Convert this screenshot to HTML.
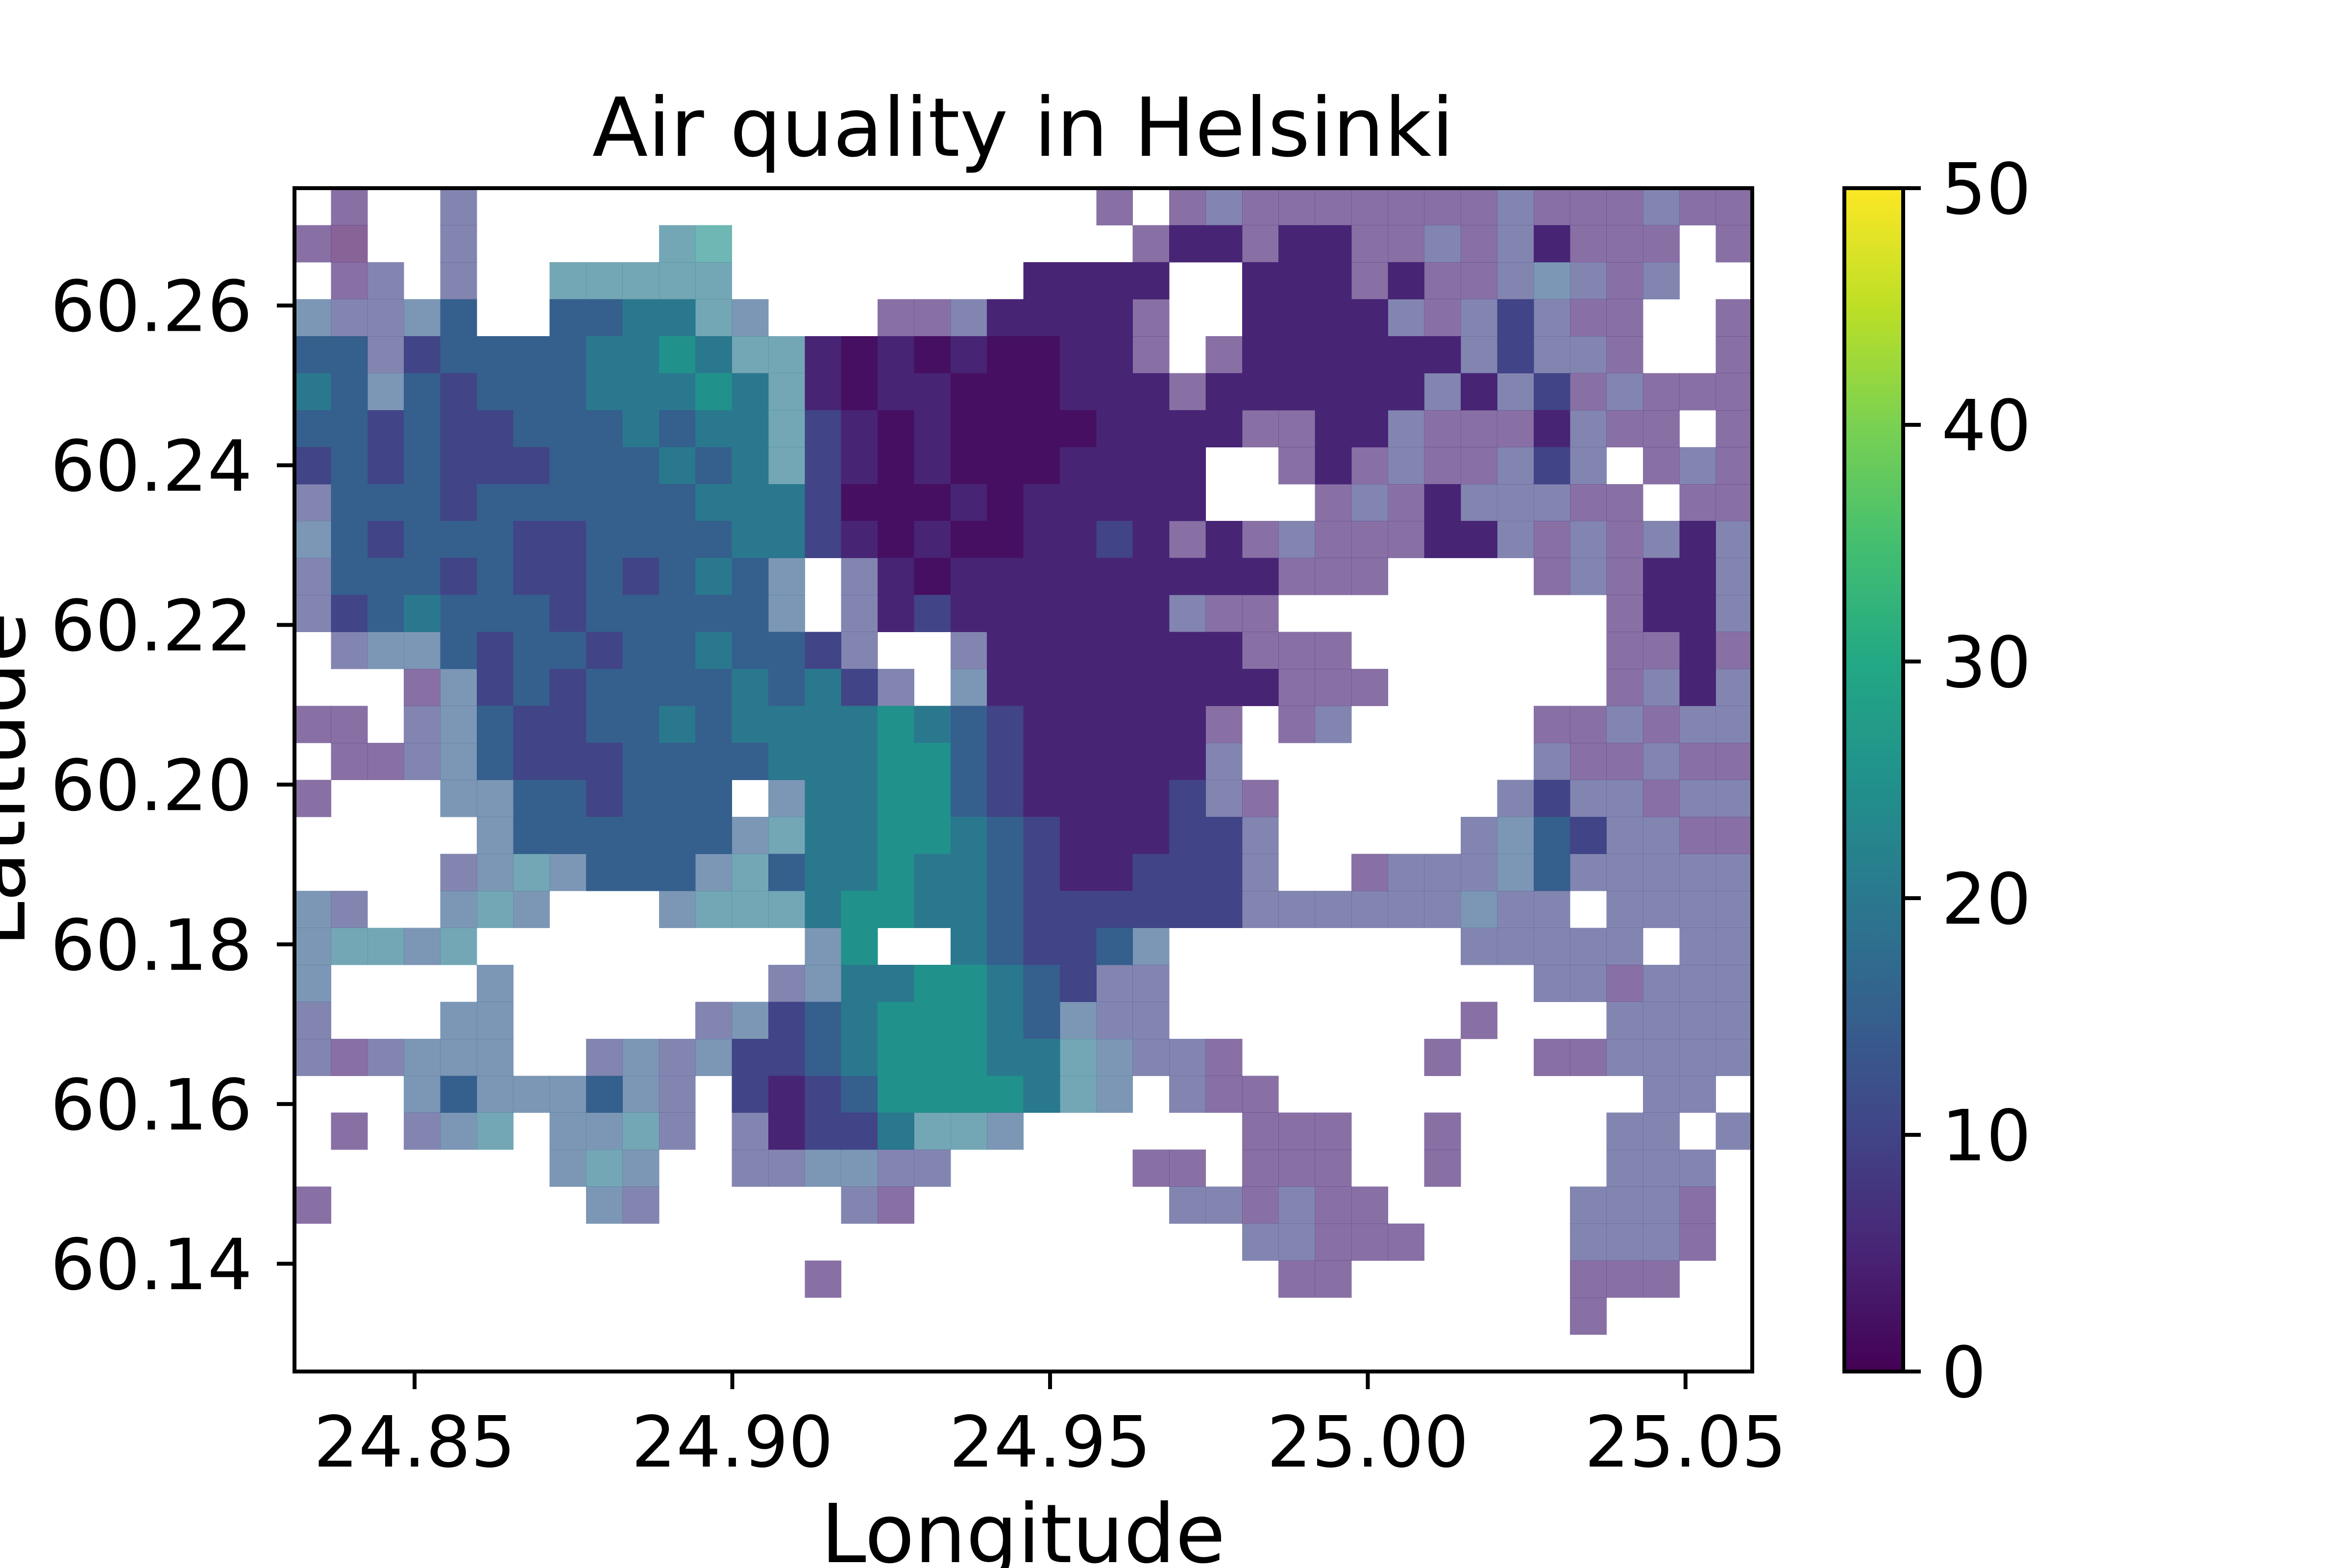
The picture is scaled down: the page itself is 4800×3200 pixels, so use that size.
<!DOCTYPE html>
<html>
<head>
<meta charset="utf-8">
<style>
html,body{margin:0;padding:0;background:#fff;}
svg{display:block;}
text{font-family:"DejaVu Sans","Liberation Sans",sans-serif;fill:#000;}
</style>
</head>
<body>
<svg id="chart" width="4800" height="3200" viewBox="0 0 4800 3200" xmlns="http://www.w3.org/2000/svg">
  <defs>
    <linearGradient id="viridis" x1="0" y1="1" x2="0" y2="0">
      <stop offset="0" stop-color="#440154"/>
      <stop offset="0.1" stop-color="#482475"/>
      <stop offset="0.2" stop-color="#414487"/>
      <stop offset="0.3" stop-color="#355f8d"/>
      <stop offset="0.4" stop-color="#2a788e"/>
      <stop offset="0.5" stop-color="#21918c"/>
      <stop offset="0.6" stop-color="#22a884"/>
      <stop offset="0.7" stop-color="#44bf70"/>
      <stop offset="0.8" stop-color="#7ad151"/>
      <stop offset="0.9" stop-color="#bddf26"/>
      <stop offset="1" stop-color="#fde725"/>
    </linearGradient>
  </defs>
  <rect width="4800" height="3200" fill="#fff"/>
  <g id="cells" shape-rendering="crispEdges"></g>
  <g id="axes"></g>
  <text x="2088" y="318" font-size="166" text-anchor="middle">Air quality in Helsinki</text>
  <text x="2088" y="3188" font-size="166" text-anchor="middle">Longitude</text>
  <text transform="translate(50,1591) rotate(-90)" font-size="166" text-anchor="middle">Latitude</text>
  <g id="colorbar"></g>
</svg>
<script>
// ---- data ----
const lonStart = 24.8311;
const lonEnd = 25.0605;
const latTop = 60.2747;
const latBottom = 60.1265;
const xTicks = [24.85, 24.90, 24.95, 25.00, 25.05];
const xTickLabels = ["24.85", "24.90", "24.95", "25.00", "25.05"];
const yTicks = [60.14, 60.16, 60.18, 60.20, 60.22, 60.24, 60.26];
const yTickLabels = ["60.14", "60.16", "60.18", "60.20", "60.22", "60.24", "60.26"];
const cbTicks = [0, 10, 20, 30, 40, 50];
const cbTickLabels = ["0", "10", "20", "30", "40", "50"];
const vmin = 0;
const vmax = 50;
// grid rows, north to south; '.' = no data, digit d = dense cell of value d*5,
// lowercase letter = sparse cell (a=0, b=5, c=10 ...)
const gridRows = [
".b..c....." + ".........." + "..b.bcbbbb" + "bbbcbbbcbb",
"ba..c....." + "ef........" + "...b11b11b" + "bcbc1bbb.b",
".bc.c..eee" + "ee........" + "1111..111b" + "1bbcdcbc..",
"dccd3..334" + "4ed...bbc1" + "111b..1111" + "cbc2cbb..b",
"33c2333344" + "54ee101010" + "011b.b1111" + "11c2ccb..b",
"43d3233344" + "454e101100" + "0111b11111" + "1c1c2bcbbb",
"3323223334" + "344e210100" + "001111bb11" + "cbbb1cbb.b",
"2323222333" + "434e210100" + "01111..b1b" + "cbbc2c.bcb",
"c333233333" + "3444200010" + "11111...bc" + "b1cccbb.bb",
"d323332233" + "3344210100" + "1121b1bcbb" + "b11cbcbc1c",
"c333232232" + "343d.c1011" + "1111111bbb" + "....bcb11c",
"c234333233" + "333d.c1211" + "1111cbb..." + "......b11c",
".cdd323323" + "34332c..c1" + "111111bbb." + "......bb1b",
"...bd23233" + "334342c.d1" + "1111111bbb" + "......bc1c",
"bb.cd32233" + "4344445432" + "11111b.bc." + "....bbcbcc",
".bbcd32223" + "3334445532" + "11111c...." + "....cbbcbb",
"b...dd3323" + "33.d445532" + "11112cb..." + "...c2ccbcc",
".....d3333" + "33de445543" + "211122c..." + "..cd32ccbb",
"....cded33" + "3de3445443" + "211222c..b" + "cccd3ccccc",
"dc..ded..." + "deee455443" + "222222cccc" + "ccdcc.cccc",
"deede....." + "....d5..43" + "223d......" + "..ccccc.cc",
"d....d...." + "...cd44554" + "32cc......" + "....ccbccc",
"c...dd...." + ".cd2345554" + "3dcc......" + "..b...cccc",
"cbcddd..cd" + "cd22345554" + "4edccb...." + ".b..bbcccc",
"...d3ddd3d" + "c.21235555" + "4ed.cbb..." + ".......cc.",
".b.cde.dde" + "c.c1224eed" + "......bbb." + ".b....cc.c",
".......ded" + "..ccddcc.." + "...bb.bbb." + ".b....ccc.",
"b.......dc" + ".....cb..." + "....ccbcbb" + ".....cccb.",
".........." + ".........." + "......ccbb" + "b....cccb.",
".........." + "....b....." + ".......bb." + ".....bbb..",
".........." + ".........." + ".........." + ".....b....",
".........." + ".........." + ".........." + ".........."
];
</script>
<script>
const plotLeft = 601, plotRight = 3576, plotTop = 384, plotBottom = 2799;
const cbLeft = 3764, cbRight = 3884;
function x(lon){ return plotLeft + (lon - lonStart) / (lonEnd - lonStart) * (plotRight - plotLeft); }
function y(lat){ return plotTop + (latTop - lat) / (latTop - latBottom) * (plotBottom - plotTop); }
function cy(v){ return plotBottom - (v - vmin) / (vmax - vmin) * (plotBottom - plotTop); }
const vir = ["#440154","#482475","#414487","#355f8d","#2a788e","#21918c","#22a884","#44bf70","#7ad151","#bddf26","#fde725"];
function hex2rgb(h){ return [parseInt(h.substr(1,2),16),parseInt(h.substr(3,2),16),parseInt(h.substr(5,2),16)]; }
function color(v){
  let t = Math.max(0, Math.min(1, (v - vmin) / (vmax - vmin))) * 10;
  let i = Math.min(9, Math.floor(t)), f = t - i;
  const a = hex2rgb(vir[i]), b = hex2rgb(vir[i+1]);
  return "rgb(" + a.map((c,k)=>Math.round(c + (b[k]-c)*f)).join(",") + ")";
}
const NS = "http://www.w3.org/2000/svg";
function mk(tag, attrs, parent){ const e = document.createElementNS(NS, tag); for (const k in attrs) e.setAttribute(k, attrs[k]); parent.appendChild(e); return e; }

// heatmap
const cellsG = document.getElementById("cells");
const nRows = gridRows.length;
const nCols = 40;
const dLon = (lonEnd - lonStart) / nCols;
const dLat = (latTop - latBottom) / nRows;
for (let r = 0; r < nRows; r++) {
  const row = gridRows[r];
  for (let c = 0; c < Math.min(nCols, row.length); c++) {
    const ch = row[c];
    if (ch === ".") continue;
    let idx, sparse = false;
    if (ch >= "0" && ch <= "9") idx = ch.charCodeAt(0) - 48;
    else { idx = ch.charCodeAt(0) - 97; sparse = true; }
    const val = idx === 0 ? 2 : idx * 5;
    const lon0 = lonStart + c * dLon, lat0 = latTop - r * dLat;
    const x0 = x(lon0), x1 = x(lon0 + dLon), y0 = y(lat0), y1 = y(lat0 - dLat);
    const rect = mk("rect", {x: x0, y: y0, width: x1 - x0 + 0.5, height: y1 - y0 + 0.5, fill: color(val)}, cellsG);
    if (sparse) rect.setAttribute("fill-opacity", "0.65");
    
    
  }
}

// axes
const ax = document.getElementById("axes");
const frame = mk("rect", {x: plotLeft, y: plotTop, width: plotRight - plotLeft, height: plotBottom - plotTop, fill: "none", stroke: "#000", "stroke-width": 8}, ax);


xTicks.forEach((v, i) => {
  const tx = x(v);
  const t = mk("line", {x1: tx, x2: tx, y1: plotBottom, y2: plotBottom + 36, stroke: "#000", "stroke-width": 8}, ax);
  
  
  const l = mk("text", {x: tx, y: 2993, "font-size": 144, "text-anchor": "middle"}, ax);
  l.textContent = xTickLabels[i];
  
  
});
yTicks.forEach((v, i) => {
  const ty = y(v);
  const t = mk("line", {x1: plotLeft - 36, x2: plotLeft, y1: ty, y2: ty, stroke: "#000", "stroke-width": 8}, ax);
  
  
  const l = mk("text", {x: 515, y: ty + 52, "font-size": 144, "text-anchor": "end"}, ax);
  l.textContent = yTickLabels[i];
  
  
});

// colorbar
const cb = document.getElementById("colorbar");
const bar = mk("rect", {x: cbLeft, y: plotTop, width: cbRight - cbLeft, height: plotBottom - plotTop, fill: "url(#viridis)", stroke: "#000", "stroke-width": 8}, cb);


cbTicks.forEach((v, i) => {
  const ty = cy(v);
  const t = mk("line", {x1: cbRight, x2: cbRight + 36, y1: ty, y2: ty, stroke: "#000", "stroke-width": 8}, cb);
  
  
  const l = mk("text", {x: 3962, y: ty + 52, "font-size": 144}, cb);
  l.textContent = cbTickLabels[i];
  
  
});
</script>
</body>
</html>
